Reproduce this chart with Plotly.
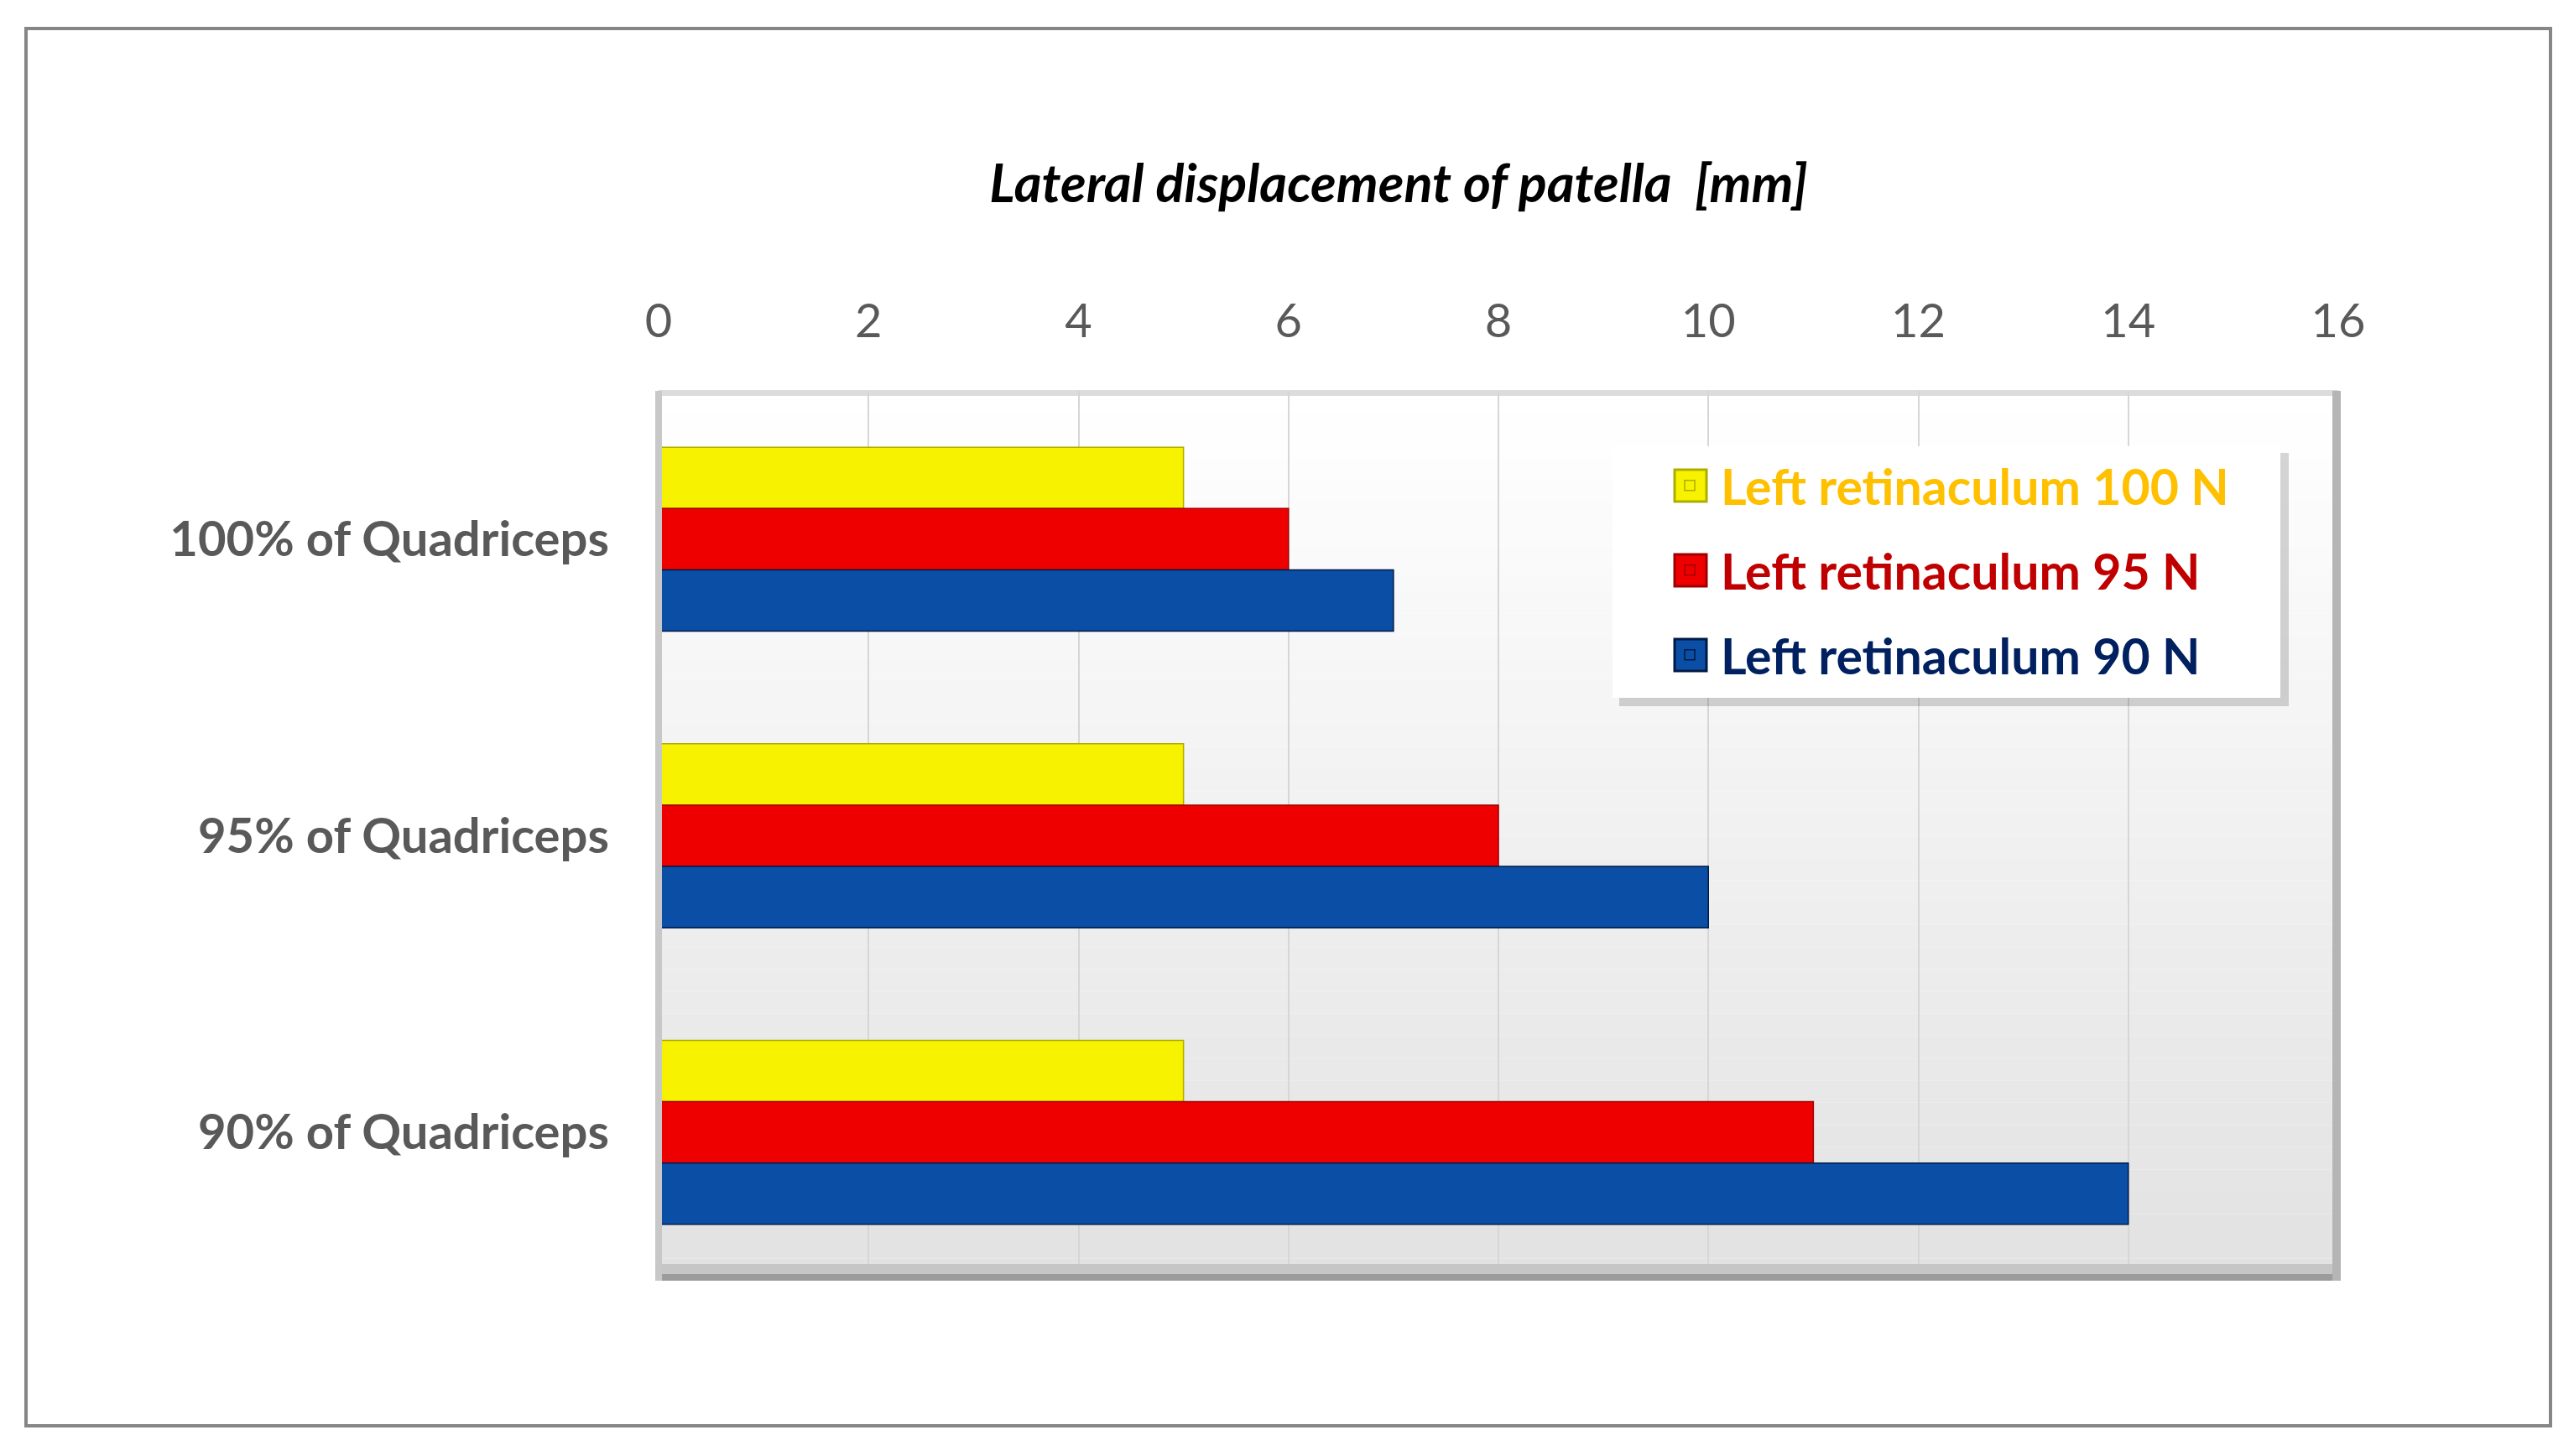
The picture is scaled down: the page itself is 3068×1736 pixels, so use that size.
import plotly.graph_objects as go

# ---------------- data ----------------
categories = ["100% of Quadriceps", "95% of Quadriceps", "90% of Quadriceps"]
series_names = ["Left retinaculum 100 N", "Left retinaculum 95 N", "Left retinaculum 90 N"]
values_100N = [5, 5, 5]
values_95N = [6, 8, 11]
values_90N = [7, 10, 14]
x_ticks = [0, 2, 4, 6, 8, 10, 12, 14, 16]
title_text = "Lateral displacement of patella  [mm]"

# ---------------- style ----------------
W, H = 3068, 1736
L, R, T, B = 785, 2787, 466, 1527          # plot area in pixels
FONT = "Lato"
fills = ["#F7F200", "#EE0000", "#0A4EA6"]
edges = ["#B0AC00", "#A00000", "#001A44"]
legend_text_colors = ["#FFC000", "#C00000", "#002060"]
legend_rows = [579, 680, 781]
legend_ids = ["legend", "legend2", "legend3"]


def px(xp):
    return (xp - L) / (R - L)


def py(yp):
    return (B - yp) / (B - T)


fig = go.Figure()
for name, vals, fc, ec, lid in zip(series_names, [values_100N, values_95N, values_90N], fills, edges, legend_ids):
    fig.add_trace(go.Bar(
        y=categories, x=vals, name=name, orientation="h",
        marker=dict(color=fc, line=dict(color=ec, width=1.5)),
        legend=lid,
    ))

shapes = []
# back wall gradient (white at top -> light grey at bottom)
n = 40
for i in range(n):
    t = i / (n - 1)
    g = int(round(255 - t * (255 - 226)))
    shapes.append(dict(type="rect", xref="paper", yref="paper",
                       x0=0, x1=1, y0=1 - (i + 1) / n, y1=1 - i / n,
                       fillcolor=f"rgb({g},{g},{g})", line=dict(width=0), layer="below"))
# top rim, floor band and walls
shapes.append(dict(type="rect", xref="paper", yref="paper", x0=0, x1=1, y0=py(472), y1=py(465),
                   fillcolor="#dcdcdc", line=dict(width=0), layer="below"))
shapes.append(dict(type="rect", xref="paper", yref="paper", x0=0, x1=1, y0=py(1527), y1=py(1507),
                   fillcolor="#c6c6c6", line=dict(width=0), layer="above"))
shapes.append(dict(type="rect", xref="paper", yref="paper", x0=0, x1=1, y0=py(1527), y1=py(1519),
                   fillcolor="#9c9c9c", line=dict(width=0), layer="above"))
shapes.append(dict(type="rect", xref="paper", yref="paper", x0=px(2780), x1=px(2790), y0=py(1527), y1=py(466),
                   fillcolor="#b5b5b5", line=dict(width=0), layer="above"))
shapes.append(dict(type="rect", xref="paper", yref="paper", x0=px(781), x1=px(789), y0=py(1527), y1=py(466),
                   fillcolor="#c8c8c8", line=dict(width=0), layer="above"))
# legend shadow and box
shapes.append(dict(type="rect", xref="paper", yref="paper", x0=px(1930), x1=px(2728), y0=py(842), y1=py(540),
                   fillcolor="rgba(0,0,0,0.16)", line=dict(width=0), layer="above"))
shapes.append(dict(type="rect", xref="paper", yref="paper", x0=px(1922), x1=px(2718), y0=py(832), y1=py(532),
                   fillcolor="#ffffff", line=dict(width=0), layer="above"))
# legend symbols (enlarged squares behind the legend's own symbols)
for yc, fc, ec in zip(legend_rows, fills, edges):
    shapes.append(dict(type="rect", xref="paper", yref="paper", x0=px(1996), x1=px(2034),
                       y0=py(yc + 19), y1=py(yc - 19),
                       fillcolor=fc, line=dict(color=ec, width=3), layer="above"))
# outer frame
shapes.append(dict(type="rect", xref="paper", yref="paper", x0=px(31), x1=px(3040), y0=py(1700), y1=py(34),
                   fillcolor="rgba(0,0,0,0)", line=dict(color="#868686", width=4), layer="above"))

legend_layouts = {}
for lid, yc, tc in zip(legend_ids, legend_rows, legend_text_colors):
    legend_layouts[lid] = dict(
        x=px(1977), y=py(yc), xanchor="left", yanchor="middle",
        bgcolor="rgba(0,0,0,0)", borderwidth=0, itemwidth=64,
        font=dict(family=FONT, size=59, weight="bold", color=tc),
    )

fig.update_layout(
    width=W, height=H,
    margin=dict(l=L, r=W - R, t=T, b=H - B, pad=0),
    paper_bgcolor="white", plot_bgcolor="white",
    barmode="group", bargap=0.38, bargroupgap=0,
    shapes=shapes,
    title=dict(text=title_text, x=px(1667), xref="paper", xanchor="center",
               y=1 - 219 / H, yref="container", yanchor="middle",
               font=dict(family=FONT, size=63, color="black", weight="bold", style="italic")),
    xaxis=dict(side="top", range=[0, 16], tickvals=x_ticks, ticktext=[str(v) for v in x_ticks],
               showgrid=True, gridcolor="#d6d6d6", gridwidth=2, zeroline=False, showline=False,
               ticks="", ticklabelstandoff=52,
               tickfont=dict(family=FONT, size=56, color="#595959")),
    yaxis=dict(autorange="reversed", showgrid=False, zeroline=False, showline=False,
               ticks="", ticklabelstandoff=58,
               tickfont=dict(family=FONT, size=58, color="#595959", weight="bold")),
    showlegend=True,
    **legend_layouts,
)

fig.write_html("out.html", config={"displayModeBar": False},
               post_script="document.body.style.margin='0';")
